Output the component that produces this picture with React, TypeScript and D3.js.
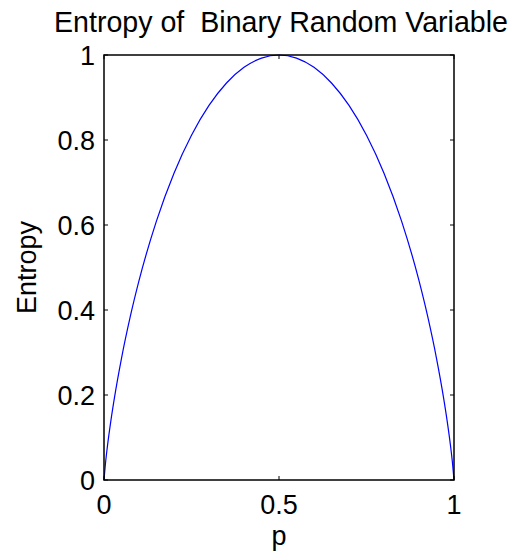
import React from "react";
import * as d3 from "d3";

const pValues = [0, 0.005, 0.01, 0.02, 0.03, 0.05, 0.075, 0.1, 0.15, 0.2, 0.25, 0.3, 0.35, 0.4, 0.45, 0.5,
  0.55, 0.6, 0.65, 0.7, 0.75, 0.8, 0.85, 0.9, 0.925, 0.95, 0.97, 0.98, 0.99, 0.995, 1];
const entropyValues = [0, 0.0454, 0.0808, 0.1414, 0.1944, 0.2864, 0.3843, 0.469, 0.6098, 0.7219, 0.8113, 0.8813, 0.9341, 0.971, 0.9928, 1,
  0.9928, 0.971, 0.9341, 0.8813, 0.8113, 0.7219, 0.6098, 0.469, 0.3843, 0.2864, 0.1944, 0.1414, 0.0808, 0.0454, 0];
const xTicks = [0, 0.5, 1];
const xTickLabels = ["0", "0.5", "1"];
const yTicks = [0, 0.2, 0.4, 0.6, 0.8, 1];
const yTickLabels = ["0", "0.2", "0.4", "0.6", "0.8", "1"];
const titleText = "Entropy of  Binary Random Variable";
const xLabelText = "p";
const yLabelText = "Entropy";

export default function App() {
  const W = 514, H = 559;
  const left = 104, right = 454, top = 55, bottom = 480;
  const x = d3.scaleLinear().domain([0, 1]).range([left, right]);
  const y = d3.scaleLinear().domain([0, 1]).range([bottom, top]);
  const pts = pValues.map((p, i) => [p, entropyValues[i]] as [number, number]);
  const line = d3.line<[number, number]>().x(d => x(d[0])).y(d => y(d[1])).curve(d3.curveMonotoneX);
  const tl = 4;
  const font = "Liberation Sans, Arial, Helvetica, sans-serif";
  const fs = 27;
  return (
    <svg width={W} height={H} style={{ position: "absolute", left: 0, top: 0, background: "#fff" }}
      fontFamily={font}>
      <rect x={0} y={0} width={W} height={H} fill="#fff" />
      <path d={line(pts) || ""} fill="none" stroke="#0000ff" strokeWidth={1.2} />
      <rect x={left} y={top} width={right - left} height={bottom - top} fill="none" stroke="#000" strokeWidth={1.5} />
      {xTicks.map((t, i) => (
        <g key={"x" + i}>
          <line x1={x(t)} x2={x(t)} y1={bottom} y2={bottom - tl} stroke="#000" />
          <line x1={x(t)} x2={x(t)} y1={top} y2={top + tl} stroke="#000" />
          <text x={x(t)} y={514} textAnchor="middle" fontSize={fs} fill="#000">{xTickLabels[i]}</text>
        </g>
      ))}
      {yTicks.map((t, i) => (
        <g key={"y" + i}>
          <line x1={left} x2={left + tl} y1={y(t)} y2={y(t)} stroke="#000" />
          <line x1={right} x2={right - tl} y1={y(t)} y2={y(t)} stroke="#000" />
          <text x={95} y={y(t) + 10} textAnchor="end" fontSize={fs} fill="#000">{yTickLabels[i]}</text>
        </g>
      ))}
      <text x={(left + right) / 2} y={545} textAnchor="middle" fontSize={fs} fill="#000">{xLabelText}</text>
      <text transform={`translate(36,${(top + bottom) / 2}) rotate(-90)`} textAnchor="middle" fontSize={fs} fill="#000">{yLabelText}</text>
      <text x={281} y={32} textAnchor="middle" fontSize={28.6} fill="#000" style={{ whiteSpace: "pre" }}>{titleText}</text>
    </svg>
  );
}
